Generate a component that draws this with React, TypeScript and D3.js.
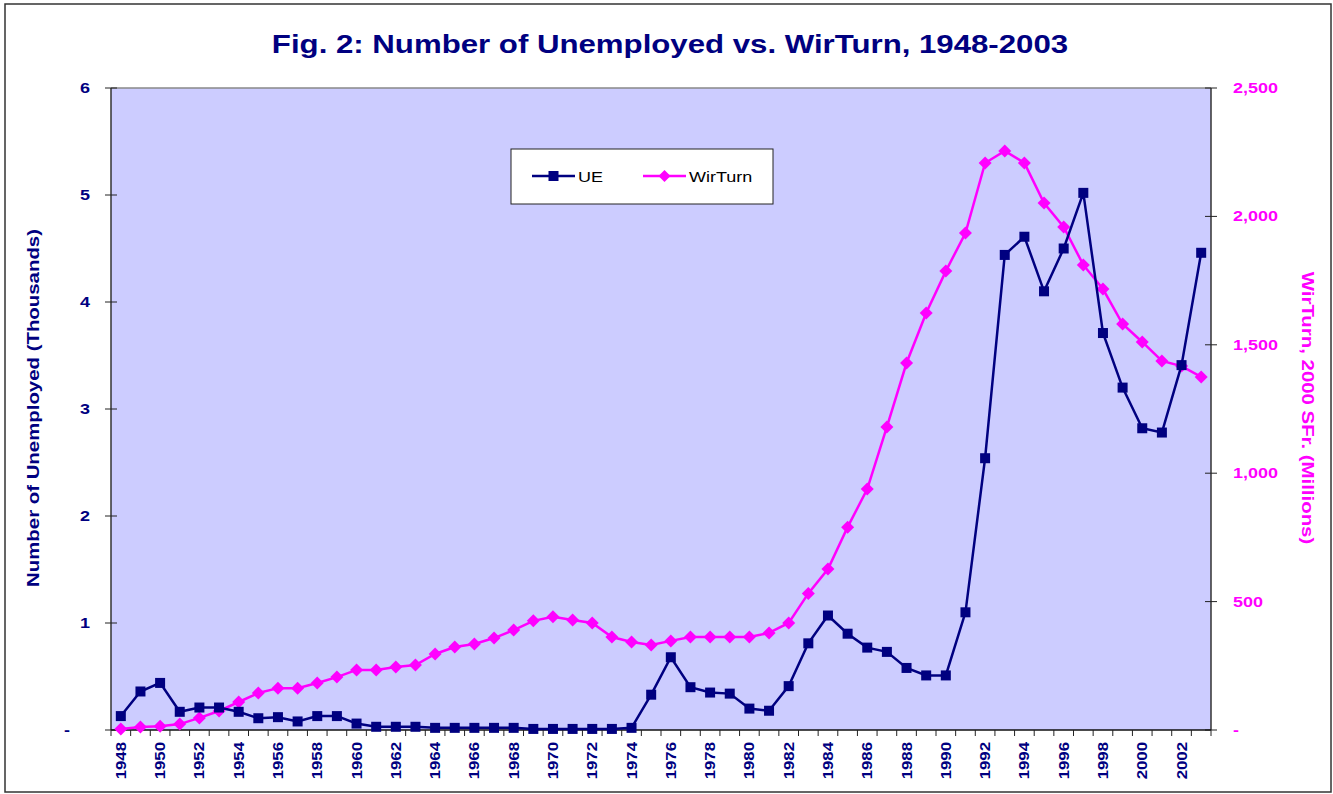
import React from 'react'
import * as d3 from 'd3'

// Fig. 2 – unemployed (thousands) vs WirTurn (2000 SFr. millions), 1948-2003

const years: number[] = [
  1948, 1949, 1950, 1951, 1952, 1953, 1954, 1955, 1956, 1957,
  1958, 1959, 1960, 1961, 1962, 1963, 1964, 1965, 1966, 1967,
  1968, 1969, 1970, 1971, 1972, 1973, 1974, 1975, 1976, 1977,
  1978, 1979, 1980, 1981, 1982, 1983, 1984, 1985, 1986, 1987,
  1988, 1989, 1990, 1991, 1992, 1993, 1994, 1995, 1996, 1997,
  1998, 1999, 2000, 2001, 2002, 2003,
]

const ueValues: number[] = [
  0.13, 0.36, 0.44, 0.17, 0.21, 0.21, 0.17, 0.11, 0.12, 0.08,
  0.13, 0.13, 0.06, 0.03, 0.03, 0.03, 0.02, 0.02, 0.02, 0.02,
  0.02, 0.01, 0.01, 0.01, 0.01, 0.01, 0.02, 0.33, 0.68, 0.40,
  0.35, 0.34, 0.20, 0.18, 0.41, 0.81, 1.07, 0.90, 0.77, 0.73,
  0.58, 0.51, 0.51, 1.10, 2.54, 4.44, 4.61, 4.10, 4.50, 5.02,
  3.71, 3.20, 2.82, 2.78, 3.41, 4.46,
]

const wirTurnValues: number[] = [
  4, 12, 15, 23, 47, 74, 109, 144, 163, 163,
  183, 206, 234, 234, 245, 253, 296, 323, 335, 358,
  389, 425, 441, 428, 417, 362, 343, 331, 347, 362,
  362, 362, 362, 378, 417, 532, 627, 790, 938, 1180,
  1429, 1624, 1787, 1935, 2208, 2255, 2208, 2052, 1959, 1811,
  1717, 1581, 1511, 1437, 1417, 1375,
]

const leftTicks = [0, 1, 2, 3, 4, 5, 6]
const rightTicks = [0, 500, 1000, 1500, 2000, 2500]

const NAVY = '#000080'
const MAGENTA = '#FF00FF'
const FONT = 'Liberation Sans, Arial, sans-serif'
const STRETCH = 1.2 // the original's text is drawn wider than normal

const W = 1333
const H = 794
const plot = { left: 111, right: 1211, top: 88, bottom: 730 }

export default function App() {
  const x = d3.scaleBand<number>().domain(years).range([plot.left, plot.right]).padding(0)
  const yL = d3.scaleLinear().domain([0, 6]).range([plot.bottom, plot.top])
  const yR = d3.scaleLinear().domain([0, 2500]).range([plot.bottom, plot.top])
  const cx = (yr: number) => (x(yr) as number) + x.bandwidth() / 2

  const ueLine = d3.line<number>()
    .x((d, i) => cx(years[i]))
    .y(d => yL(d))
  const wtLine = d3.line<number>()
    .x((d, i) => cx(years[i]))
    .y(d => yR(d))

  const fmtR = d3.format(',')
  const diamond = (px: number, py: number, r: number) =>
    `M${px},${py - r}L${px + r},${py}L${px},${py + r}L${px - r},${py}Z`
  const at = (tx: number, ty: number, rot = 0) =>
    `translate(${tx},${ty}) rotate(${rot}) scale(${STRETCH},1)`

  return (
    <svg width={W} height={H} style={{ position: 'absolute', left: 0, top: 0, background: '#fff' }}
      fontFamily={FONT}>
      <rect x={5} y={4} width={1326} height={788} fill="#fff" stroke="#333" strokeWidth={1.5} />

      <text transform={at(670, 53)} textAnchor="middle" fill={NAVY} fontWeight="bold" fontSize={26}>
        Fig. 2: Number of Unemployed vs. WirTurn, 1948-2003
      </text>

      {/* plot area */}
      <rect x={plot.left} y={plot.top} width={plot.right - plot.left} height={plot.bottom - plot.top}
        fill="#CCCCFF" />
      <line x1={plot.left} x2={plot.right} y1={plot.top} y2={plot.top} stroke="#888" strokeWidth={1.5} />

      {/* left axis */}
      <line x1={plot.left} x2={plot.left} y1={plot.top} y2={plot.bottom} stroke="#333" strokeWidth={1.5} />
      {leftTicks.map(t => (
        <g key={'l' + t}>
          <line x1={plot.left - 6} x2={plot.left + 6} y1={yL(t)} y2={yL(t)} stroke="#222" />
          <text transform={at(t === 0 ? 70 : plot.left - 21, yL(t) + 5)} textAnchor="end" fill={NAVY}
            fontWeight="bold" fontSize={15}>
            {t === 0 ? '-' : t}
          </text>
        </g>
      ))}

      {/* right axis */}
      <line x1={plot.right} x2={plot.right} y1={plot.top} y2={plot.bottom} stroke="#333" strokeWidth={1.5} />
      {rightTicks.map(t => (
        <g key={'r' + t}>
          <line x1={plot.right - 6} x2={plot.right + 6} y1={yR(t)} y2={yR(t)} stroke="#222" />
          <text transform={at(plot.right + 22, yR(t) + 5)} textAnchor="start" fill={MAGENTA}
            fontWeight="bold" fontSize={15}>
            {t === 0 ? '-' : fmtR(t)}
          </text>
        </g>
      ))}

      {/* x axis */}
      <line x1={plot.left} x2={plot.right} y1={plot.bottom} y2={plot.bottom} stroke="#111" strokeWidth={1.5} />
      {years.map(yr => (
        <line key={'xt' + yr} x1={x(yr) as number} x2={x(yr) as number}
          y1={plot.bottom} y2={plot.bottom + 6} stroke="#222" />
      ))}
      <line x1={plot.right} x2={plot.right} y1={plot.bottom} y2={plot.bottom + 6} stroke="#222" />
      {years.filter(yr => yr % 2 === 0).map(yr => (
        <text key={'xl' + yr} transform={at(cx(yr) + 5, plot.bottom + 12, -90)}
          textAnchor="end" fill={NAVY} fontWeight="bold" fontSize={14}>
          {yr}
        </text>
      ))}

      {/* axis titles */}
      <text transform={at(39, 408, -90)} textAnchor="middle" fill={NAVY}
        fontWeight="bold" fontSize={17}>
        Number of Unemployed (Thousands)
      </text>
      <text transform={at(1302, 408, 90)} textAnchor="middle" fill={MAGENTA}
        fontWeight="bold" fontSize={17}>
        WirTurn, 2000 SFr. (Millions)
      </text>

      {/* series */}
      <path d={wtLine(wirTurnValues) || ''} fill="none" stroke={MAGENTA} strokeWidth={2.5} />
      {wirTurnValues.map((v, i) => (
        <path key={'wd' + i} d={diamond(cx(years[i]), yR(v), 6.5)} fill={MAGENTA} />
      ))}
      <path d={ueLine(ueValues) || ''} fill="none" stroke={NAVY} strokeWidth={2.5} />
      {ueValues.map((v, i) => (
        <rect key={'us' + i} x={cx(years[i]) - 5} y={yL(v) - 5} width={10} height={10} fill={NAVY} />
      ))}

      {/* legend */}
      <g>
        <rect x={511} y={149} width={262} height={55} fill="#fff" stroke="#222" strokeWidth={1} />
        <line x1={532} x2={575} y1={176} y2={176} stroke={NAVY} strokeWidth={2.5} />
        <rect x={548.5} y={171} width={10} height={10} fill={NAVY} />
        <text transform={at(578, 182)} fontSize={15} fill="#000">UE</text>
        <line x1={643} x2={686} y1={176} y2={176} stroke={MAGENTA} strokeWidth={2.5} />
        <path d={diamond(664.5, 176, 6)} fill={MAGENTA} />
        <text transform={at(689, 182)} fontSize={15} fill="#000">WirTurn</text>
      </g>
    </svg>
  )
}
